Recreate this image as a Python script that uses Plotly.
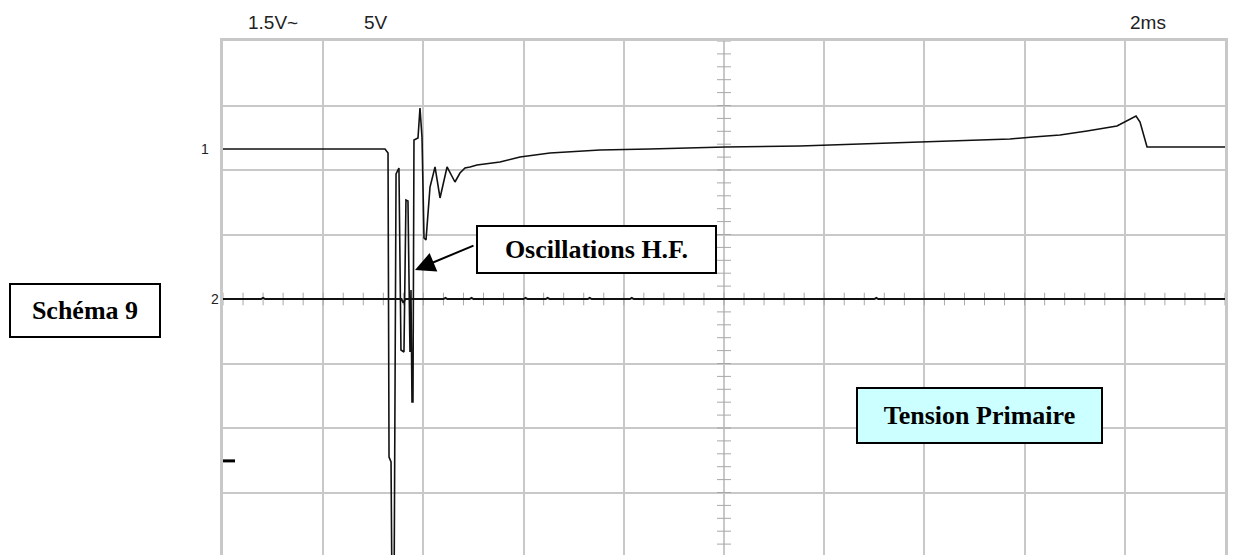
import plotly.graph_objects as go

# ---- data (time and voltage in screen divisions) ----
ch1_t = [0.000, 1.617, 1.647, 1.657, 1.677, 1.687, 1.707, 1.727, 1.756, 1.776, 1.806,
         1.826, 1.846, 1.866, 1.876, 1.886, 1.896, 1.906, 1.946, 1.966, 1.986, 2.006,
         2.026, 2.066, 2.116, 2.166, 2.236, 2.315, 2.365, 2.415, 2.465, 2.535, 2.764,
         2.964, 3.263, 3.533, 3.762, 4.261, 5.010, 5.758, 6.756, 7.206, 7.854, 8.084,
         8.353, 8.623, 8.922, 9.112, 9.152, 9.222, 10.000]
ch1_v = [2.326, 2.326, 2.264, -2.450, -2.527, -4.667, -4.667, 1.938, 2.031, -0.791, -0.822,
         1.535, 1.519, -0.822, 0.140, -1.597, -1.597, 2.465, 2.496, 2.961, 2.512, 0.946,
         0.915, 1.736, 2.047, 1.566, 2.047, 1.814, 1.953, 2.031, 2.047, 2.078, 2.124,
         2.202, 2.264, 2.295, 2.310, 2.326, 2.357, 2.372, 2.419, 2.450, 2.481, 2.512,
         2.543, 2.605, 2.682, 2.837, 2.744, 2.357, 2.357]

ch2_t = [0.00, 0.38, 0.40, 0.42, 1.60, 1.78, 1.80, 1.82, 2.20, 2.22, 2.24, 2.46, 2.48,
         2.50, 3.00, 3.02, 3.04, 3.22, 3.24, 3.26, 3.64, 3.66, 3.68, 4.06, 4.08, 4.10,
         5.00, 6.50, 6.52, 6.54, 8.00, 10.00]
ch2_v = [0.00, 0.00, 0.02, 0.00, 0.00, 0.00, -0.06, 0.00, 0.00, 0.02, 0.00, 0.00, 0.02,
         0.00, 0.00, 0.02, 0.00, 0.00, 0.02, 0.00, 0.00, 0.02, 0.00, 0.00, 0.02, 0.00,
         0.00, 0.00, 0.02, 0.00, 0.00, 0.00]

ch1_level = 2.326
ch2_level = 0.0
trig_level = -2.51

top_labels = ["1.5V~", "5V", "2ms"]
channel_labels = ["1", "2"]
box_texts = ["Schéma 9", "Oscillations H.F.", "Tension Primaire"]

# graticule centre ticks (0.2 division)
tick_x = [i / 5 for i in range(0, 51)]
tick_y = [i / 5 for i in range(-20, 21)]

X0, X1 = 0, 10
Y0, Y1 = -3.969, 4

GRID = "#C8C8C8"
TICKC = "#A8A8A8"

fig = go.Figure()

fig.add_trace(go.Scatter(x=tick_x, y=[0] * len(tick_x), mode="markers",
                         marker=dict(symbol="line-ns", size=9,
                                     line=dict(width=1, color=TICKC)),
                         hoverinfo="skip", showlegend=False))
fig.add_trace(go.Scatter(x=[5] * len(tick_y), y=tick_y, mode="markers",
                         marker=dict(symbol="line-ew", size=10,
                                     line=dict(width=1, color=TICKC)),
                         hoverinfo="skip", showlegend=False))

fig.add_trace(go.Scatter(x=ch2_t, y=ch2_v, mode="lines",
                         line=dict(color="#111111", width=1.8),
                         hoverinfo="skip", showlegend=False))
fig.add_trace(go.Scatter(x=ch1_t, y=ch1_v, mode="lines",
                         line=dict(color="#111111", width=1.6),
                         hoverinfo="skip", showlegend=False))

fig.add_shape(type="line", xref="x", yref="y", x0=0, x1=0.12,
              y0=trig_level, y1=trig_level, line=dict(color="black", width=3))

W, H = 1233, 555
ML, MR, MT, MB = 223, 8, 41, 0
PW, PH = W - ML - MR, H - MT - MB


def px(xp):
    return (xp - ML) / PW


def py(yp):
    return (H - MB - yp) / PH


sans = "Liberation Sans, Arial, sans-serif"
serif = "Liberation Serif, Times New Roman, serif"

for lab, xc in zip(top_labels, [273, 376, 1148]):
    fig.add_annotation(text=lab, x=px(xc), y=py(23), xref="paper", yref="paper",
                       showarrow=False, xanchor="center", yanchor="middle",
                       font=dict(family=sans, size=19, color="#222222"))

for lab, lvl, xr in zip(channel_labels, [ch1_level, ch2_level], [211, 221]):
    fig.add_annotation(text=lab, x=px(xr), y=lvl, xref="paper", yref="y",
                       showarrow=False, xanchor="right", yanchor="middle",
                       font=dict(family=sans, size=14, color="#222222"))

boxes = [
    (box_texts[0], 85, 310.5, 148, 51, "white"),
    (box_texts[1], 596.5, 249.5, 237, 45, "white"),
    (box_texts[2], 979.5, 415.5, 243, 53, "#CCFFFF"),
]
for txt, cx, cy, bw, bh, bg in boxes:
    fig.add_annotation(text=txt, x=px(cx), y=py(cy), xref="paper", yref="paper",
                       showarrow=False, xanchor="center", yanchor="middle",
                       width=bw, height=bh, align="center", valign="middle",
                       bgcolor=bg, bordercolor="black", borderwidth=2, borderpad=0,
                       font=dict(family=serif, size=26, color="black", weight="bold"))

# arrow to the oscillations
fig.add_annotation(text="", x=px(415), y=py(270), xref="paper", yref="paper",
                   ax=60, ay=-25, showarrow=True, arrowhead=2, arrowsize=2,
                   arrowwidth=2, arrowcolor="black")

axis_common = dict(showgrid=True, gridcolor=GRID, gridwidth=2, dtick=1, tick0=0,
                   showticklabels=False, ticks="", zeroline=False,
                   showline=True, linecolor=GRID, linewidth=3, mirror=True,
                   fixedrange=True)

fig.update_layout(
    width=W, height=H,
    margin=dict(l=ML, r=MR, t=MT, b=MB),
    paper_bgcolor="white", plot_bgcolor="white",
    xaxis=dict(range=[X0, X1], **axis_common),
    yaxis=dict(range=[Y0, Y1], **axis_common),
    showlegend=False,
)

fig.write_html("out.html")
